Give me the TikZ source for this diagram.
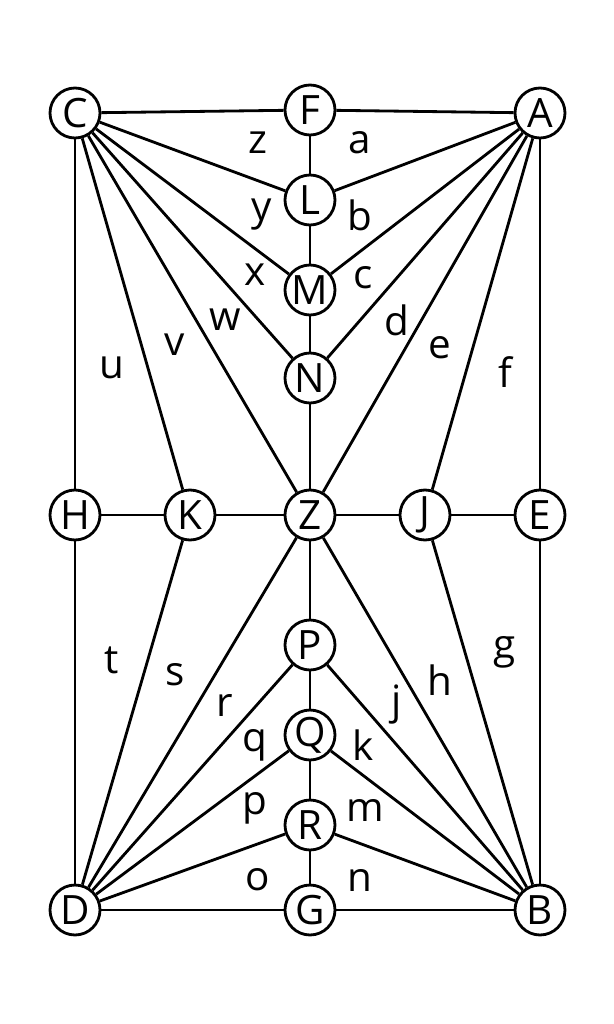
\documentclass[tikz,border=0pt]{standalone}
\usepackage{fontspec}
\setmainfont{Open Sans}
\tikzset{
    vertex/.style={circle, draw, line width=1.6pt, fill=white, minimum size=1.0cm, inner sep=0pt, font=\fontsize{23}{23}\selectfont},
    edgeLabel/.style={font=\fontsize{23}{23}\selectfont},
    link/.style={line width=1.6pt}
}
\begin{document}
\begin{tikzpicture}[x=0.02cm, y=-0.02cm]
    \useasboundingbox (0,0) rectangle (614,1024);

    % --- vertices ---
    \node (C) [vertex] at (75,113) {C};
    \node (F) [vertex] at (310,110) {F};
    \node (A) [vertex] at (540,113) {A};
    \node (L) [vertex] at (310,200) {L};
    \node (M) [vertex] at (310,290) {M};
    \node (N) [vertex] at (310,378) {N};
    \node (H) [vertex] at (75,515) {H};
    \node (K) [vertex] at (190,515) {K};
    \node (Z) [vertex] at (310,515) {Z};
    \node (J) [vertex] at (425,515) {J};
    \node (E) [vertex] at (540,515) {E};
    \node (P) [vertex] at (310,645) {P};
    \node (Q) [vertex] at (310,735) {Q};
    \node (R) [vertex] at (310,825) {R};
    \node (D) [vertex] at (75,910) {D};
    \node (G) [vertex] at (310,910) {G};
    \node (B) [vertex] at (540,910) {B};

    % --- edges ---
    \foreach \u/\v in {C/F, F/A, C/H, H/D, A/E, E/B, D/G, G/B,
                       H/K, K/Z, Z/J, J/E, F/L, L/M, M/N, N/Z, Z/P, P/Q, Q/R, R/G,
                       C/L, C/M, C/N, C/Z, C/K, A/L, A/M, A/N, A/Z, A/J,
                       D/K, D/Z, D/P, D/Q, D/R, B/J, B/Z, B/P, B/Q, B/R}
        \draw [link] (\u) -- (\v);

    % --- region labels ---
    \foreach \t/\x/\y in {z/258/143, a/360/143, y/262/215, b/360/215,
                          x/255/275, c/363/278, w/225/320, d/397/320,
                          v/175/345, e/440/348, u/112/368, f/505/372,
                          t/112/660, s/175/675, g/505/652, r/225/705,
                          h/440/680, j/397/705, q/255/745, k/363/745,
                          p/255/808, m/365/810, o/258/880, n/360/880}
        \node (lbl\t) [edgeLabel] at (\x,\y) {\t};
\end{tikzpicture}
\end{document}
